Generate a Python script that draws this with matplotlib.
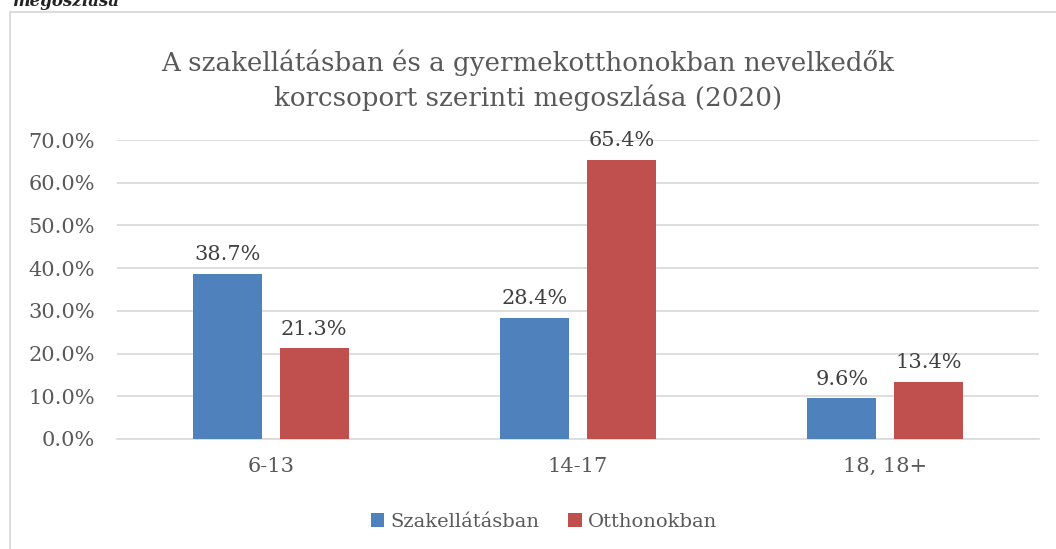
import numpy as np
import matplotlib.pyplot as plt
from matplotlib.patches import Rectangle

# Data
categories = ['6-13', '14-17', '18, 18+']
szak = [38.7, 28.4, 9.6]
otthon = [21.3, 65.4, 13.4]
series_names = ['Szakellátásban', 'Otthonokban']
title = 'A szakellátásban és a gyermekotthonokban nevelkedők\nkorcsoport szerinti megoszlása (2020)'

plt.rcParams['font.family'] = ['DejaVu Serif']
txt = '#595959'

fig = plt.figure(figsize=(10.56, 5.49), dpi=100)
ax = fig.add_axes([117 / 1056, 1 - 439 / 549, (1039 - 117) / 1056, 299 / 549])

# chart frame (cut off on right/bottom like the original)
fig.patches.append(Rectangle((10 / 1056, -0.1), 1.2, 1 - 12 / 549 + 0.1,
                             transform=fig.transFigure, fill=False,
                             edgecolor='#D9D9D9', linewidth=1.3))
fig.text(12 / 1056, 1 - 6 / 549, 'megoszlása', fontsize=12, style='italic',
         fontweight='bold', color='#222222', va='baseline', ha='left')

x = np.arange(len(categories))
w = 0.225
off = 0.1417
b1 = ax.bar(x - off, szak, w, color='#4F81BD', label=series_names[0], zorder=3)
b2 = ax.bar(x + off, otthon, w, color='#C0504D', label=series_names[1], zorder=3)

for bars, vals in ((b1, szak), (b2, otthon)):
    for r, v in zip(bars, vals):
        ax.text(r.get_x() + r.get_width() / 2, v + 2.2, f'{v:.1f}%',
                ha='center', va='bottom', fontsize=15, color='#404040')

ax.set_xlim(-0.5, 2.5)
ax.set_ylim(0, 70)
ax.set_yticks(np.arange(0, 71, 10))
ax.set_yticklabels([f'{t:.1f}%' for t in range(0, 71, 10)])
ax.set_xticks(x)
ax.set_xticklabels(categories)
ax.tick_params(axis='both', length=0, labelsize=15, colors=txt)
ax.tick_params(axis='x', pad=13)
ax.tick_params(axis='y', pad=16)
ax.grid(axis='y', color='#D9D9D9', linewidth=1.2, zorder=0)
for s in ['top', 'right', 'left']:
    ax.spines[s].set_visible(False)
ax.spines['bottom'].set_color('#D9D9D9')
ax.spines['bottom'].set_linewidth(1.2)

fig.text(0.5, 1 - 80 / 549, title, ha='center', va='center', fontsize=18.8,
         color=txt, linespacing=1.4)

fig.legend(handles=[b1, b2], loc='center', bbox_to_anchor=(544 / 1056, 1 - 522 / 549),
           ncol=2, frameon=False, fontsize=14, handlelength=0.7, handleheight=0.7,
           handletextpad=0.3, columnspacing=1.5, labelcolor=txt)

fig.savefig('out.png', dpi=100)
